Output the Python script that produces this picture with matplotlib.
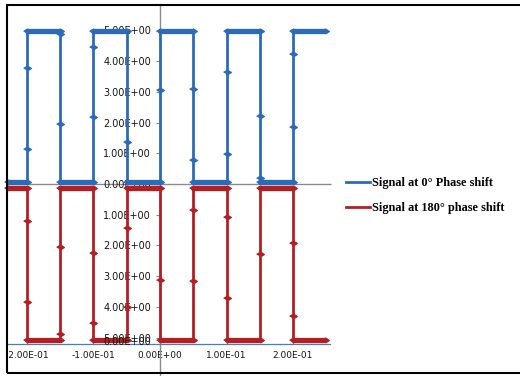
import numpy as np
import matplotlib
matplotlib.use("Agg")
import matplotlib.pyplot as plt
from matplotlib.lines import Line2D
from matplotlib.patches import Rectangle
from matplotlib.transforms import Bbox, TransformedBbox

# Sampled square waves (time in s, amplitude in V)
blue_t = [-0.228, -0.2, -0.2, -0.2, -0.2, -0.15, -0.15, -0.15, -0.15,
          -0.1, -0.1, -0.1, -0.1, -0.05, -0.05, -0.05, 0.0, 0.0, 0.0,
          0.05, 0.05, 0.05, 0.05, 0.1, 0.1, 0.1, 0.1, 0.15, 0.15, 0.15, 0.15,
          0.2, 0.2, 0.2, 0.2, 0.248]
blue_v = [0.08, 0.08, 1.14, 3.78, 5.0, 5.0, 4.88, 1.95, 0.08,
          0.08, 2.18, 4.47, 5.0, 5.0, 1.36, 0.08, 0.08, 3.06, 5.0,
          5.0, 3.09, 0.78, 0.08, 0.08, 0.98, 3.65, 5.0, 5.0, 2.23, 0.2, 0.08,
          0.08, 1.85, 4.25, 5.0, 5.0]

red_t = [-0.228, -0.2, -0.2, -0.2, -0.2, -0.15, -0.15, -0.15, -0.15,
         -0.1, -0.1, -0.1, -0.1, -0.05, -0.05, -0.05, -0.05, 0.0, 0.0, 0.0,
         0.05, 0.05, 0.05, 0.05, 0.1, 0.1, 0.1, 0.1, 0.15, 0.15, 0.15,
         0.2, 0.2, 0.2, 0.2, 0.248]
red_v = [-0.13, -0.13, -1.2, -3.83, -5.08, -5.08, -4.9, -2.04, -0.13,
         -0.13, -2.24, -4.52, -5.08, -5.08, -4.0, -1.44, -0.13, -0.13, -3.13, -5.08,
         -5.08, -3.16, -0.85, -0.13, -0.13, -1.06, -3.7, -5.08, -5.08, -2.28, -0.13,
         -0.13, -1.91, -4.3, -5.08, -5.08]

series_labels = ["Signal at 0\u00b0 Phase shift", "Signal at 180\u00b0 phase shift"]

x_ticks = [-0.2, -0.1, 0.0, 0.1, 0.2]
x_tick_labels = ["-2.00E-01", "-1.00E-01", "0.00E+00", "1.00E-01", "2.00E-01"]
y_ticks = [5, 4, 3, 2, 1, 0, -1, -2, -3, -4, -5]
y_tick_labels = ["5.00E+00", "4.00E+00", "3.00E+00", "2.00E+00", "1.00E+00", "0.00E+00",
                 "1.00E+00", "2.00E+00", "3.00E+00", "4.00E+00", "5.00E+00"]

BLUE = "#2C6BB8"
RED = "#B41F24"
AXIS_GREY = "#8A8A8A"
TEXT = "#141414"

fig = plt.figure(figsize=(5.2, 3.76), dpi=100)
ax = fig.add_axes([0, 0, 1, 1])
ax.set_xlim(-160 / 665, 360 / 665)
ax.set_ylim(-192 / 30.7, 184 / 30.7)
ax.patch.set_visible(False)

# squat diamond marker
diamond = [(-1, 0), (0, 0.62), (1, 0), (0, -0.62)]


def draw_wave(t, v, color, lo, hi):
    t = np.asarray(t)
    v = np.asarray(v, dtype=float)
    ax.plot(t, v, color=color, lw=2.0, marker=diamond, ms=5.5,
            mfc=color, mec=color, zorder=3)
    flat = np.where(np.isin(v, [lo, hi]), v, np.nan)
    ax.plot(t, flat, color=color, lw=3.8, solid_capstyle="round", zorder=3)


draw_wave(blue_t, blue_v, BLUE, 0.08, 5.0)
draw_wave(red_t, red_v, RED, -0.13, -5.08)

# horizontal zero line
ax.hlines(0, -0.230, 0.257, color=AXIS_GREY, lw=1.0, zorder=1)

# axes lines
for s in ("top", "right"):
    ax.spines[s].set_visible(False)
ax.spines["left"].set_position(("data", 0))
ax.spines["left"].set_bounds(-6.25, 5.83)
ax.spines["left"].set_color(AXIS_GREY)
ax.spines["left"].set_linewidth(1.0)
ax.spines["bottom"].set_position(("data", -5.21))
ax.spines["bottom"].set_bounds(-0.2286, 0.2556)
ax.spines["bottom"].set_color("#4A7EBB")
ax.spines["bottom"].set_linewidth(0.9)

ax.set_yticks(y_ticks, y_tick_labels)
ax.set_xticks(x_ticks, x_tick_labels)
ax.tick_params(axis="y", direction="out", length=3, width=0.8, color=AXIS_GREY,
               labelsize=7, labelcolor=TEXT, pad=3.5)
ax.tick_params(axis="x", direction="in", length=3, width=0.8, color="#4A7EBB",
               labelsize=6.5, labelcolor=TEXT, pad=5)

# tick labels are cut off at the inner edge of the chart frame
clip = TransformedBbox(Bbox.from_extents(8.5 / 520, 0, 1, 1), fig.transFigure)
for lab in ax.xaxis.get_ticklabels():
    lab.set_clip_box(clip)
    lab.set_clip_on(True)

# second label sitting at the lower end of the vertical axis
ax.annotate("0.00E+00", xy=(0, -5.14), xytext=(-6.7, 0),
            textcoords="offset points", ha="right", va="center",
            fontsize=7, color=TEXT, zorder=4)

handles = [Line2D([], [], color=BLUE, lw=2.0), Line2D([], [], color=RED, lw=2.0)]
fig.legend(handles, series_labels, loc="upper left",
           bbox_to_anchor=(346 / 520, 1 - 177 / 376), frameon=False,
           prop={"family": "Liberation Serif", "weight": "bold", "size": 8.8},
           handlelength=2.0, handletextpad=0.12, labelspacing=1.05,
           borderaxespad=0, borderpad=0)

# outer chart frame
fig.add_artist(Rectangle((7 / 520, 3 / 376), 1.2, 368 / 376, transform=fig.transFigure,
                         fill=False, ec="black", lw=1.5))

fig.savefig("out.png", dpi=100)
